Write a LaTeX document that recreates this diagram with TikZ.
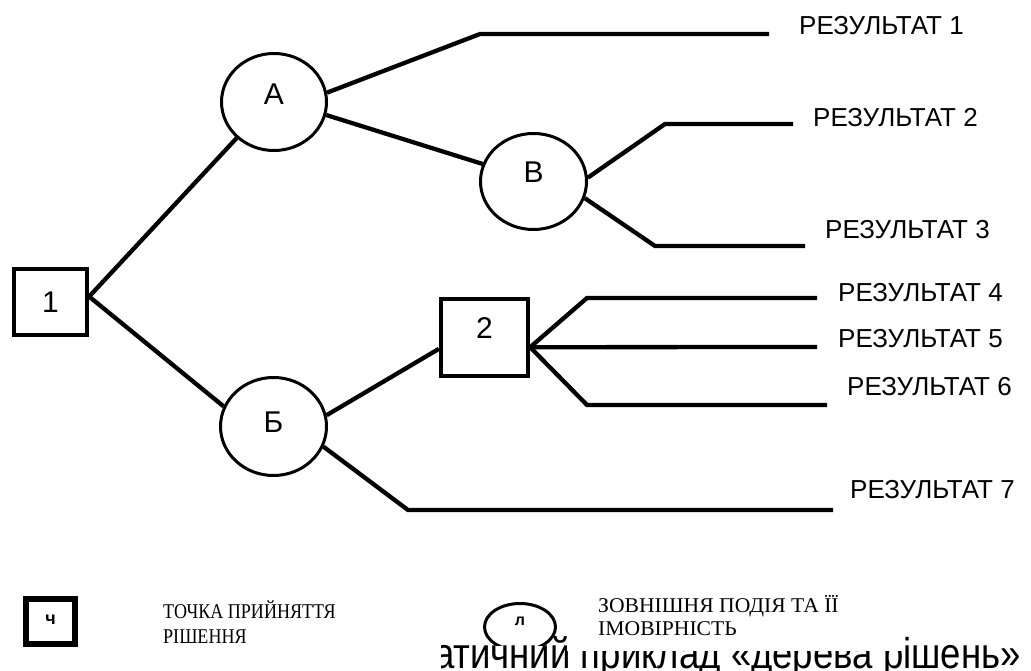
\documentclass[tikz,border=0pt]{standalone}
\usepackage{fontspec}
\usepackage{graphicx}
\setmainfont{Liberation Serif}
\newfontfamily\arialfont{Liberation Sans}
\usetikzlibrary{shapes.geometric}

% narrow or widen horizontally
\newcommand\narrowtext[2]{\scalebox{#1}[1]{#2}}

\tikzset{
  conn/.style={line width=4.3pt},
  chance/.style={ellipse, draw, line width=3pt, inner sep=0pt,
    font=\arialfont\fontsize{30}{36}\selectfont},
  decision/.style={rectangle, draw, line width=4.3pt, inner sep=0pt,
    font=\arialfont\fontsize{30}{36}\selectfont},
  outcome/.style={anchor=west, inner sep=0pt,
    font=\arialfont\fontsize{26}{31}\selectfont},
  legendtext/.style={anchor=base west, inner sep=0pt,
    font=\fontsize{21}{25}\selectfont},
  whitebox/.style={fill=white, draw=none},
}

\begin{document}
\begin{tikzpicture}[x=1pt, y=-1pt]
\useasboundingbox (0,0) rectangle (1031,671);
\clip (0,0) rectangle (1031,671);

% decision and chance nodes
\node[decision, minimum width=73pt, minimum height=66pt] (d1) at (50.5,302) {1};
\node[chance, minimum width=105pt, minimum height=97pt, text depth=16pt] (A) at (274,102) {А};
\node[chance, minimum width=106pt, minimum height=96pt, text depth=18pt] (B) at (533.5,181.5) {В};
\node[chance, minimum width=106pt, minimum height=98pt, text depth=8pt] (Bb) at (273.5,426.5) {Б};
\node[decision, minimum width=87pt, minimum height=77pt, text depth=18pt] (d2) at (484.5,337.5) {2};

% bends and free ends of the branches
\coordinate (r1b) at (480,34);  \coordinate (r1e) at (769,34);
\coordinate (r2b) at (665,124); \coordinate (r2e) at (793,124);
\coordinate (r3b) at (655,246); \coordinate (r3e) at (805,246);
\coordinate (r4b) at (587,298); \coordinate (r4e) at (817,298);
\coordinate (r5e) at (817,347);
\coordinate (r6b) at (587,405); \coordinate (r6e) at (827,405);
\coordinate (r7b) at (408,510); \coordinate (r7e) at (833,510);

% branches
\draw[conn] (d1.8) -- (A.224);
\draw[conn] (d1.8) -- (Bb.158);
\draw[conn] (A.10) -- (r1b) -- (r1e);
\draw[conn] (A.-14) -- (B.161);
\draw[conn] (B.4) -- (r2b) -- (r2e);
\draw[conn] (B.-18) -- (r3b) -- (r3e);
\draw[conn] (Bb.12) -- (d2.194);
\draw[conn] (Bb.-22) -- (r7b) -- (r7e);
\draw[conn] (d2.-12) -- (r4b) -- (r4e);
\draw[conn] (d2.-12) -- (r5e);
\draw[conn] (d2.-12) -- (r6b) -- (r6e);

% outcomes
\node[outcome] (o1) at (799,26) {РЕЗУЛЬТАТ 1};
\node[outcome] (o2) at (813,117.5) {РЕЗУЛЬТАТ 2};
\node[outcome] (o3) at (825,229.5) {РЕЗУЛЬТАТ 3};
\node[outcome] (o4) at (838,293) {РЕЗУЛЬТАТ 4};
\node[outcome] (o5) at (838,339) {РЕЗУЛЬТАТ 5};
\node[outcome] (o6) at (847,386.5) {РЕЗУЛЬТАТ 6};
\node[outcome] (o7) at (850,490) {РЕЗУЛЬТАТ 7};

% legend symbol for an external event
\node[ellipse, draw, line width=3pt, minimum width=71pt, minimum height=47pt,
  inner sep=0pt, text depth=12pt,
  font=\arialfont\bfseries\fontsize{16}{18}\selectfont] (lgc) at (520,627) {л};

% caption with its white text-box background
\fill[whitebox] (435,646) rectangle (1031,671);
\node[anchor=base east, inner sep=0pt, font=\arialfont\fontsize{43}{50}\selectfont]
  (cap) at (1021,668) {\narrowtext{0.85}{Схематичний приклад «дерева рішень»}};

% legend text-box backgrounds lying over the caption
\fill[whitebox] (0,585) rectangle (441,671);
\fill[whitebox] (567,590) rectangle (905,651);

% legend symbol for a decision point
\node[draw, line width=6pt, minimum width=49pt, minimum height=45pt, inner sep=0pt,
  text depth=4pt,
  font=\arialfont\bfseries\fontsize{18}{20}\selectfont] (lgb) at (50.5,621.5) {ч};

% legend texts
\node[legendtext] (lt1) at (163,618) {\narrowtext{0.86}{ТОЧКА ПРИЙНЯТТЯ}};
\node[legendtext] (lt2) at (163,643) {\narrowtext{0.86}{РІШЕННЯ}};
\node[legendtext] (lt3) at (598,612) {\narrowtext{1.03}{ЗОВНІШНЯ ПОДІЯ ТА ЇЇ}};
\node[legendtext] (lt4) at (598,635) {\narrowtext{1.03}{ІМОВІРНІСТЬ}};
\end{tikzpicture}
\end{document}
